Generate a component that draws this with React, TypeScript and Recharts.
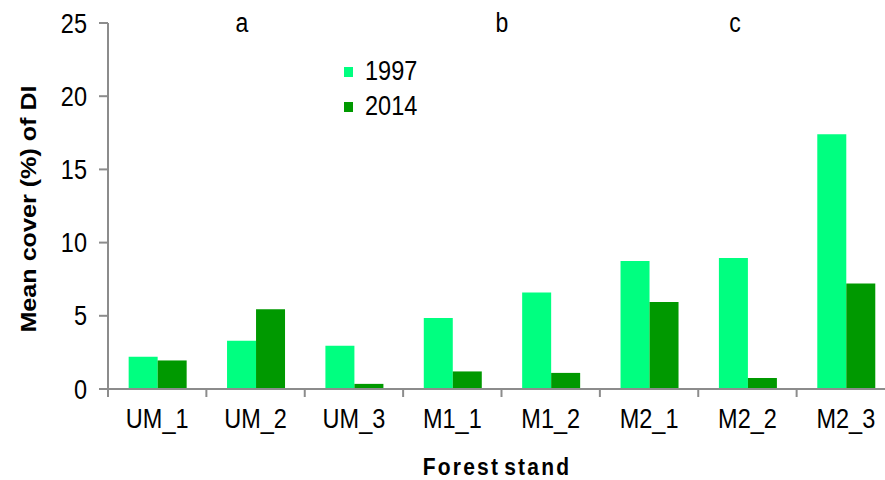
import React from "react";
import { BarChart, Bar, XAxis, YAxis, Legend } from "recharts";

// --- Data ---

const STANDS = ["UM_1", "UM_2", "UM_3", "M1_1", "M1_2", "M2_1", "M2_2", "M2_3"];
const COVER_1997 = [2.2, 3.3, 2.95, 4.85, 6.6, 8.75, 8.95, 17.4];
const COVER_2014 = [1.95, 5.45, 0.35, 1.2, 1.1, 5.95, 0.75, 7.2];
const Y_TICKS = [0, 5, 10, 15, 20, 25];
const GROUP_LETTERS = ["a", "b", "c"];

// --- Layout / style ---

const CHART_W = 900;
const CHART_H = 480;
const MARGIN = { top: 23, right: 5, bottom: 0, left: 0 };
const Y_AXIS_W = 108;
const X_AXIS_H = 91;
const PLOT_W = CHART_W - MARGIN.left - MARGIN.right - Y_AXIS_W;
const BAND = PLOT_W / STANDS.length;
const LETTER_X = [242, 502, 735];

const LIGHT = "#00FF80";
const DARK = "#009900";
const AXIS = "#8c8c8c";
const FONT = "'Liberation Sans', Arial, sans-serif";
// the source figure is slightly stretched vertically
const STRETCH = 1.17;

const chartData = STANDS.map((stand, i) => ({
  stand,
  y1997: COVER_1997[i],
  y2014: COVER_2014[i],
}));

function YTick(props: { x?: number; y?: number; payload?: { value: number } }) {
  const { x = 0, y = 0, payload } = props;
  return (
    <text
      transform={`translate(${x} ${y}) scale(1 ${STRETCH})`}
      textAnchor="end"
      dominantBaseline="central"
      fontFamily={FONT}
      fontSize={23.5}
      fill="#000"
    >
      {payload?.value}
    </text>
  );
}

function XTick(props: { x?: number; y?: number; payload?: { value: string } }) {
  const { x = 0, y = 0, payload } = props;
  const left = x - BAND / 2;
  return (
    <g>
      <line x1={left} x2={left} y1={y} y2={y + 8} stroke={AXIS} strokeWidth={2} />
      <text
        transform={`translate(${x} ${y + 39}) scale(1 ${STRETCH})`}
        textAnchor="middle"
        fontFamily={FONT}
        fontSize={23.5}
        fill="#000"
      >
        {payload?.value}
      </text>
    </g>
  );
}

function SeriesLegend(props: { payload?: { value: string; color: string }[] }) {
  const items = props.payload ?? [];
  return (
    <svg width={100} height={75} style={{ display: "block" }}>
      {items.map((item, i) => (
        <g key={item.value}>
          <rect x={0} y={17 + i * 35} width={9} height={10} fill={item.color} />
          <text
            transform={`translate(21 ${29.5 + i * 35.5}) scale(1 ${STRETCH})`}
            fontFamily={FONT}
            fontSize={23.5}
            fill="#000"
          >
            {item.value}
          </text>
        </g>
      ))}
    </svg>
  );
}

export default function App() {
  return (
    <div
      style={{
        position: "absolute",
        left: 0,
        top: 0,
        width: 885,
        height: 480,
        overflow: "hidden",
        background: "#fff",
      }}
    >
      <BarChart
        width={CHART_W}
        height={CHART_H}
        data={chartData}
        margin={MARGIN}
        barCategoryGap="21%"
        barGap={0}
      >
        <XAxis
          dataKey="stand"
          height={X_AXIS_H}
          axisLine={{ stroke: AXIS, strokeWidth: 2 }}
          tickLine={false}
          tickSize={0}
          tickMargin={0}
          interval={0}
          tick={<XTick />}
        />
        <YAxis
          width={Y_AXIS_W}
          domain={[0, 25]}
          ticks={Y_TICKS}
          interval={0}
          axisLine={{ stroke: AXIS, strokeWidth: 2 }}
          tickLine={{ stroke: AXIS, strokeWidth: 2 }}
          tickSize={9}
          tickMargin={12}
          tick={<YTick />}
        />
        <Legend
          layout="vertical"
          align="center"
          verticalAlign="middle"
          wrapperStyle={{ left: 344, top: 50, width: 100 }}
          content={<SeriesLegend />}
        />
        <Bar dataKey="y1997" name="1997" fill={LIGHT} isAnimationActive={false} />
        <Bar dataKey="y2014" name="2014" fill={DARK} isAnimationActive={false} />
        {GROUP_LETTERS.map((letter, i) => (
          <text
            key={letter}
            transform={`translate(${LETTER_X[i]} 32) scale(1 ${STRETCH})`}
            textAnchor="middle"
            fontFamily={FONT}
            fontSize={23}
            fill="#000"
          >
            {letter}
          </text>
        ))}
        <text
          transform={`translate(36 209) rotate(-90) scale(${STRETCH} 1)`}
          textAnchor="middle"
          fontFamily={FONT}
          fontSize={21.5}
          fontWeight="bold"
          fill="#000"
        >
          Mean cover (%) of DI
        </text>
        <text
          transform={`translate(497 475) scale(1 ${STRETCH})`}
          textAnchor="middle"
          fontFamily={FONT}
          fontSize={21}
          fontWeight="bold"
          letterSpacing={2.2}
          wordSpacing={-4}
          fill="#000"
        >
          Forest stand
        </text>
      </BarChart>
    </div>
  );
}
